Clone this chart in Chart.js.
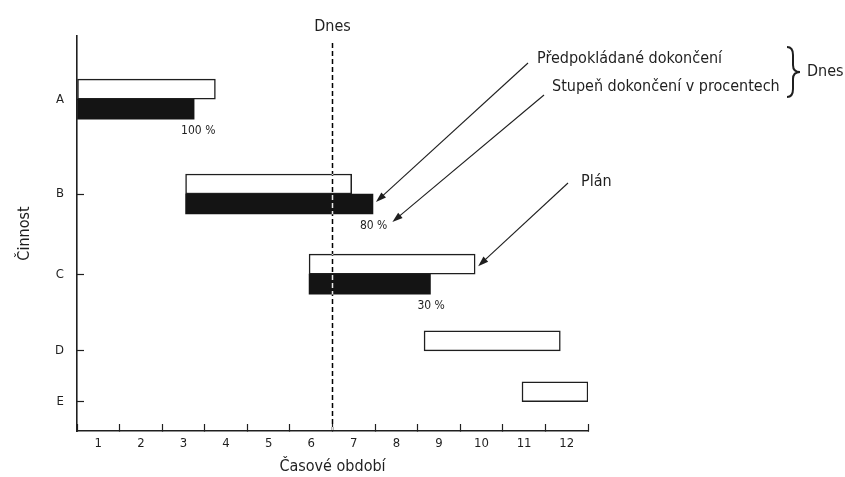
<!DOCTYPE html>
<html lang="cs">
<head>
<meta charset="utf-8">
<title>Ganttův diagram</title>
<script src="https://cdn.jsdelivr.net/npm/chart.js@4"></script>
<style>
  html, body { margin: 0; padding: 0; background: #fff; }
</style>
</head>
<body>
<canvas id="ganttChart" width="845" height="477"></canvas>
<script>
const activities = ["A", "B", "C", "D", "E"];
const periods = ["1", "2", "3", "4", "5", "6", "7", "8", "9", "10", "11", "12"];
const planStart = [0, 2.55, 5.45, 8.15, 10.45];
const planEnd = [3.25, 6.45, 9.35, 11.35, 12];
const doneEnd = [2.75, 6.95, 8.3];
const donePercent = [100, 80, 30];
const today = 6;

// where each activity row sits on the (reversed) y axis, 0 = top
const rowSlots = [1.6, 4, 6.03, 7.97, 9.26];

const ink = "#1f1f1f";
const fontFamily = '"DejaVu Sans Condensed", "Liberation Sans Narrow", sans-serif';
Chart.defaults.font.family = fontFamily;
Chart.defaults.color = ink;

function arrow(ctx, x1, y1, x2, y2) {
    const a = Math.atan2(y2 - y1, x2 - x1);
    ctx.beginPath();
    ctx.moveTo(x1, y1);
    ctx.lineTo(x2 - 6 * Math.cos(a), y2 - 6 * Math.sin(a));
    ctx.stroke();
    ctx.beginPath();
    ctx.moveTo(x2, y2);
    ctx.lineTo(x2 - 11 * Math.cos(a - 0.32), y2 - 11 * Math.sin(a - 0.32));
    ctx.lineTo(x2 - 11 * Math.cos(a + 0.32), y2 - 11 * Math.sin(a + 0.32));
    ctx.closePath();
    ctx.fill();
}

const paper = {
    id: "paper",
    beforeDraw(chart) {
        const ctx = chart.ctx;
        ctx.save();
        ctx.fillStyle = "#ffffff";
        ctx.fillRect(0, 0, chart.width, chart.height);
        ctx.restore();
    }
};

const notes = {
    id: "notes",
    afterDatasetsDraw(chart) {
        const { ctx, chartArea, scales } = chart;
        const plan = chart.getDatasetMeta(0).data;
        const done = chart.getDatasetMeta(1).data;

        ctx.save();
        ctx.fillStyle = ink;
        ctx.strokeStyle = ink;
        ctx.textBaseline = "middle";

        // percent under each progress bar
        ctx.font = `12px ${fontFamily}`;
        ctx.textAlign = "left";
        const pct = done.map((bar, i) => {
            const label = donePercent[i] + " %";
            const x = bar.x - 13;
            const y = bar.y + bar.height / 2 + 12;
            ctx.fillText(label, x, y);
            return { right: x + ctx.measureText(label).width, y: y };
        });

        // "Dnes" marker
        const tx = scales.x.getPixelForValue(today);
        ctx.font = `16px ${fontFamily}`;
        ctx.textAlign = "center";
        ctx.fillText("Dnes", tx, 27);

        ctx.save();
        ctx.globalCompositeOperation = "difference";
        ctx.strokeStyle = "#fff";
        ctx.lineWidth = 1.5;
        ctx.setLineDash([5, 3]);
        ctx.beginPath();
        ctx.moveTo(tx, 43);
        ctx.lineTo(tx, chartArea.bottom - 1);
        ctx.stroke();
        ctx.restore();

        // notes on the right
        ctx.textAlign = "left";
        ctx.fillText("Předpokládané dokončení", 537, 59);
        ctx.fillText("Stupeň dokončení v procentech", 552, 87);
        ctx.fillText("Dnes", 807, 72);
        ctx.fillText("Plán", 581, 182);

        ctx.lineWidth = 2;
        ctx.beginPath();
        ctx.moveTo(787, 47);
        ctx.quadraticCurveTo(793, 47, 793, 55);
        ctx.lineTo(793, 65);
        ctx.quadraticCurveTo(793, 72, 800, 72);
        ctx.quadraticCurveTo(793, 72, 793, 79);
        ctx.lineTo(793, 89);
        ctx.quadraticCurveTo(793, 97, 787, 97);
        ctx.stroke();

        ctx.lineWidth = 1.1;
        arrow(ctx, 528, 63, done[1].x + 3, done[1].y - 2);
        arrow(ctx, 544, 95, pct[1].right + 5, pct[1].y - 4);
        arrow(ctx, 568, 183, plan[2].x + 3, plan[2].y + 2);
        ctx.restore();
    }
};

function chart() {
    const planData = activities.map((a, i) => ({ y: rowSlots[i], x: [planStart[i], planEnd[i]] }));
    const doneData = doneEnd.map((end, i) => ({ y: rowSlots[i], x: [planStart[i], end] }));

    const gantt = document.getElementById("ganttChart").getContext("2d");
    new Chart(gantt, {
        type: "bar",
        data: {
            datasets: [
                {
                    label: "Plán",
                    data: planData,
                    backgroundColor: "#ffffff",
                    borderColor: ink,
                    borderWidth: 1.5,
                    borderSkipped: false,
                    barThickness: 20,
                },
                {
                    label: "Stupeň dokončení",
                    data: doneData,
                    backgroundColor: "#141414",
                    borderWidth: 0,
                    barThickness: 20,
                },
            ],
        },
        options: {
            indexAxis: "y",
            responsive: false,
            animation: false,
            layout: { padding: { top: 36, right: 257, bottom: 0, left: 0 } },
            plugins: {
                legend: { display: false },
                tooltip: { enabled: false },
            },
            scales: {
                x: {
                    type: "linear",
                    min: 0,
                    max: 12,
                    offset: false,
                    afterFit: (s) => { s.height = 46; },
                    grid: { drawOnChartArea: false, offset: false, tickLength: -7, tickColor: ink, tickWidth: 1.2 },
                    border: { color: ink, width: 1.6 },
                    ticks: {
                        stepSize: 1,
                        autoSkip: false,
                        maxRotation: 0,
                        labelOffset: -21.3,
                        padding: 12,
                        font: { size: 13 },
                        callback: (v) => periods[v - 1] ?? "",
                    },
                    title: {
                        display: true,
                        text: "Časové období",
                        font: { size: 16 },
                        padding: { top: 0, bottom: 1 },
                    },
                },
                y: {
                    type: "linear",
                    reverse: true,
                    min: 0,
                    max: 10,
                    offset: false,
                    afterFit: (s) => { s.width = 77; },
                    afterBuildTicks: (s) => { s.ticks = rowSlots.map((v) => ({ value: v })); },
                    grid: { drawOnChartArea: false, offset: false, tickLength: -7, tickColor: ink, tickWidth: 1.2 },
                    border: { color: ink, width: 1.6 },
                    ticks: {
                        padding: 20,
                        font: { size: 13 },
                        callback: (v, i) => activities[i],
                    },
                    title: {
                        display: true,
                        text: "Činnost",
                        font: { size: 16 },
                        padding: { top: 15, bottom: 0 },
                    },
                },
            },
        },
        plugins: [paper, notes],
    });
}

chart();
</script>
</body>
</html>
